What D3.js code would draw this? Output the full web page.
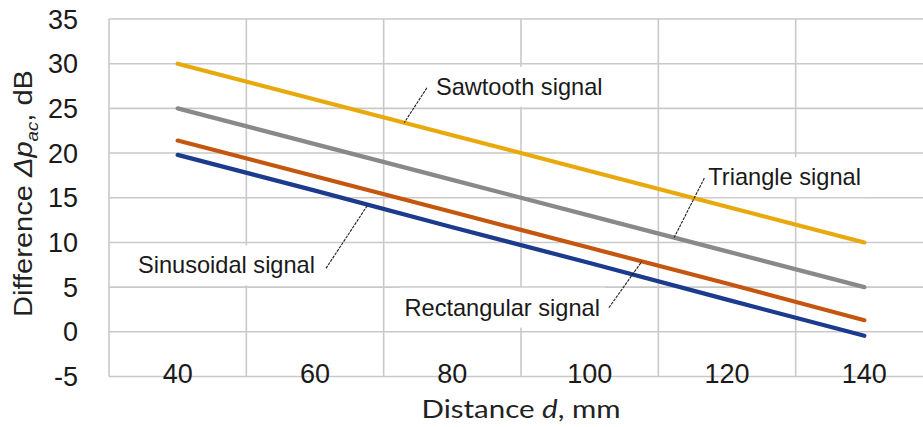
<!DOCTYPE html>
<html><head><meta charset="utf-8">
<script src="https://cdn.jsdelivr.net/npm/d3@7"></script>
<style>
html,body{margin:0;padding:0;background:#fff;}
svg{display:block;}
</style></head>
<body>
<svg id="chart" width="923" height="427"></svg>
<script>
// ---- data ----
const categories = [40, 60, 80, 100, 120, 140];
const seriesNames = ["Sawtooth signal", "Triangle signal", "Rectangular signal", "Sinusoidal signal"];
const sawtooth    = [30, 26, 22, 18, 14, 10];
const triangle    = [25, 21, 17, 13, 9, 5];
const rectangular = [21.4, 17.4, 13.4, 9.4, 5.4, 1.3];
const sinusoidal  = [19.8, 15.8, 11.7, 7.7, 3.6, -0.45];
const yTicks = [35, 30, 25, 20, 15, 10, 5, 0, -5];
// annotation: leader anchor distance on the series, leader start (distance, dB)
const annSeries   = ["Sawtooth signal", "Triangle signal", "Sinusoidal signal", "Rectangular signal"];
const annAnchorD  = [73.0, 112.3, 67.7, 107.6];
const annStartD   = [76.3, 116.7, 61.6, 102.8];
const annStartV   = [27.3, 17.2, 7.1, 2.7];

(function(){
const colors = {"Sawtooth signal":"#E8A90C","Triangle signal":"#898989","Rectangular signal":"#C5560F","Sinusoidal signal":"#1C3B8E"};
const seriesData = {"Sawtooth signal":sawtooth,"Triangle signal":triangle,"Rectangular signal":rectangular,"Sinusoidal signal":sinusoidal};

const svg = d3.select("#chart");
const pLeft = 109, pRight = 933, pTop = 19, pBottom = 376.5;

const x = d3.scaleBand().domain(categories).range([pLeft, pRight]).paddingInner(0).paddingOuter(0);
const xc = d => x(d) + x.bandwidth()/2;
const xLin = d3.scaleLinear().domain([categories[0], categories[categories.length-1]])
  .range([xc(categories[0]), xc(categories[categories.length-1])]);
const y = d3.scaleLinear().domain([-5, 35]).range([pBottom, pTop]);

const gridColor = "#c9c9c9";
const g = svg.append("g");

g.selectAll("line.hg").data(yTicks).enter().append("line")
  .attr("x1", pLeft).attr("x2", pRight)
  .attr("y1", d => y(d)).attr("y2", d => y(d))
  .attr("stroke", gridColor).attr("stroke-width", 1.6);
const bounds = categories.map(c => x(c)).concat([pRight]);
g.selectAll("line.vg").data(bounds).enter().append("line")
  .attr("x1", d => d).attr("x2", d => d)
  .attr("y1", pTop).attr("y2", pBottom)
  .attr("stroke", gridColor).attr("stroke-width", 1.6);

g.selectAll("text.yt").data(yTicks).enter().append("text")
  .attr("x", 78).attr("y", d => y(d) + 9.5)
  .attr("text-anchor", "end")
  .attr("font-family", "Liberation Sans, Arial, sans-serif")
  .attr("font-size", 27).attr("fill", "#1a1a1a")
  .text(d => d);

g.selectAll("text.xt").data(categories).enter().append("text")
  .attr("x", d => xc(d)).attr("y", 383)
  .attr("text-anchor", "middle")
  .attr("font-family", "Liberation Sans, Arial, sans-serif")
  .attr("font-size", 27).attr("fill", "#1a1a1a")
  .text(d => d);

const line = d3.line().x((d,i) => xc(categories[i])).y(d => y(d));
seriesNames.slice().reverse().forEach(name => {
  g.append("path").datum(seriesData[name])
    .attr("d", line).attr("fill", "none")
    .attr("stroke", colors[name]).attr("stroke-width", 4.2)
    .attr("stroke-linecap", "round").attr("stroke-linejoin", "round");
});

function valueAt(name, d) {
  const f = d3.scaleLinear().domain(categories).range(seriesData[name]);
  return f(d);
}

const annFont = "Liberation Sans, Arial, sans-serif";
annSeries.forEach((name, i) => {
  const sx = xLin(annStartD[i]), sy = y(annStartV[i]);
  const ex = xLin(annAnchorD[i]), ey = y(valueAt(name, annAnchorD[i]));
  let tx, anchor, base;
  if (name === "Sawtooth signal") { tx = sx + 9; anchor = "start"; base = sy + 7; }
  else if (name === "Triangle signal") { tx = sx + 4; anchor = "start"; base = sy + 7; }
  else if (name === "Sinusoidal signal") { tx = sx - 11; anchor = "end"; base = sy + 5; }
  else { tx = sx - 9; anchor = "end"; base = sy + 8; }
  const t = g.append("text")
    .attr("x", tx).attr("y", base)
    .attr("text-anchor", anchor)
    .attr("font-family", annFont).attr("font-size", 23.6).attr("fill", "#1a1a1a")
    .text(name);
  const bb = t.node().getBBox();
  g.insert("rect", () => t.node())
    .attr("x", bb.x - 5).attr("y", base - 28)
    .attr("width", bb.width + 10).attr("height", 40)
    .attr("fill", "#fff");
  g.append("line")
    .attr("x1", sx).attr("y1", sy).attr("x2", ex).attr("y2", ey)
    .attr("stroke", "#222").attr("stroke-width", 1.1)
    .attr("stroke-dasharray", "3,1");
});

const xt = svg.append("text")
  .attr("x", (pLeft + pRight) / 2).attr("y", 418)
  .attr("text-anchor", "middle")
  .attr("font-family", "Lato, Carlito, sans-serif")
  .attr("font-size", 25).attr("fill", "#222")
  .attr("textLength", 199).attr("lengthAdjust", "spacingAndGlyphs");
xt.append("tspan").text("Distance ");
xt.append("tspan").attr("font-style", "italic").text("d");
xt.append("tspan").text(", mm");

const yt = svg.append("text")
  .attr("transform", "translate(32,193.5) rotate(-90)")
  .attr("text-anchor", "middle")
  .attr("font-family", "Liberation Sans, Arial, sans-serif")
  .attr("font-size", 26.5).attr("fill", "#222")
  .attr("textLength", 247).attr("lengthAdjust", "spacingAndGlyphs");
yt.append("tspan").text("Difference ");
yt.append("tspan").attr("font-style", "italic").text("Δp");
yt.append("tspan").attr("font-style", "italic").attr("font-size", 17).attr("dy", 6).text("ac");
yt.append("tspan").attr("dy", -6).text(", dB");
})();
</script>
</body></html>
